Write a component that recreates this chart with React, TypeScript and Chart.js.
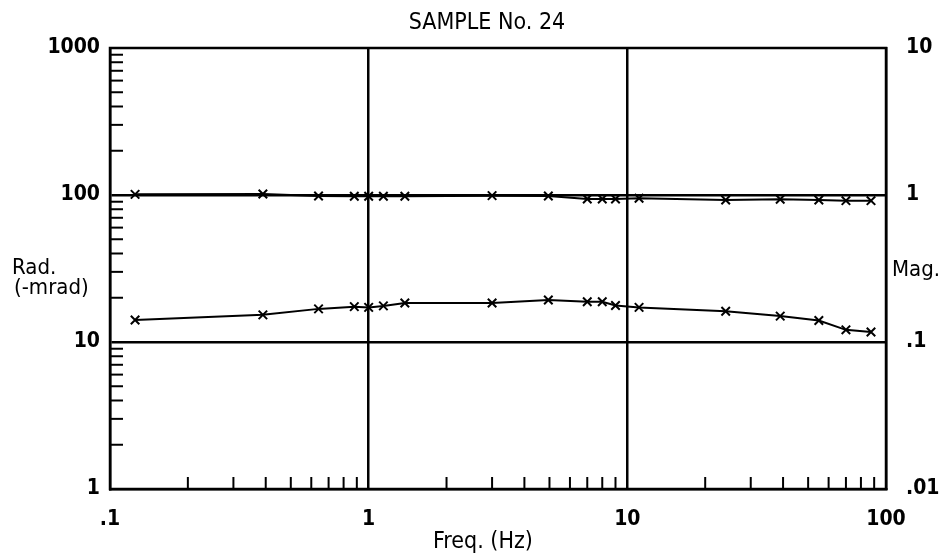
import React, { useEffect, useRef } from "react";
import { Chart, registerables } from "chart.js";
Chart.register(...registerables);

// Frequencies (Hz) of the measured points
const freqs = [0.125, 0.39, 0.64, 0.88, 1.0, 1.14, 1.38, 3.0, 4.95, 7.0, 8.0, 9.0, 11.1, 24, 39, 55, 70, 87.5];
// Magnitude (right axis)
const magValues = [1.01, 1.015, 0.985, 0.98, 0.98, 0.98, 0.98, 0.99, 0.985, 0.94, 0.94, 0.94, 0.95, 0.925, 0.935, 0.925, 0.915, 0.915];
// Phase, -mrad (left axis)
const radValues = [14.1, 15.3, 16.8, 17.4, 17.2, 17.6, 18.4, 18.4, 19.3, 18.8, 18.8, 17.7, 17.2, 16.2, 15.0, 14.0, 12.1, 11.7];

const xMajor = [0.1, 1, 10, 100];
const xLabels = [".1", "1", "10", "100"];
const leftMajor = [1, 10, 100, 1000];
const leftLabels = ["1", "10", "100", "1000"];
const rightMajor = [0.01, 0.1, 1, 10];
const rightLabels = [".01", ".1", "1", "10"];
const minorMults = [2, 3, 4, 5, 6, 7, 8, 9];

const titleText = "SAMPLE No. 24";
const xTitle = "Freq. (Hz)";
const leftTitle = ["Rad.", "(-mrad)"];
const rightTitle = "Mag.";

const FONT = "'DejaVu Sans Condensed', 'DejaVu Sans', sans-serif";

function allTicks(majors: number[]) {
  const out: number[] = [];
  for (let i = 0; i < majors.length; i++) {
    out.push(majors[i]);
    if (i < majors.length - 1) minorMults.forEach((m) => out.push(+(majors[i] * m).toPrecision(6)));
  }
  return out;
}
function minors(majors: number[]) {
  const out: number[] = [];
  for (let i = 0; i < majors.length - 1; i++) minorMults.forEach((m) => out.push(majors[i] * m));
  return out;
}
const isMajor = (v: number, majors: number[]) => majors.some((m) => Math.abs(Math.log10(v) - Math.log10(m)) < 1e-6);

const framePlugin = {
  id: "frame",
  afterDraw(chart: any) {
    const { ctx, chartArea: a, scales } = chart;
    ctx.save();
    ctx.strokeStyle = "#000";
    ctx.lineWidth = 2.5;
    ctx.strokeRect(a.left, a.top, a.right - a.left, a.bottom - a.top);
    ctx.lineWidth = 2;
    minors(xMajor).forEach((v) => {
      const x = scales.x.getPixelForValue(v);
      ctx.beginPath();
      ctx.moveTo(x, a.bottom);
      ctx.lineTo(x, a.bottom - 12);
      ctx.stroke();
    });
    minors(leftMajor).forEach((v) => {
      const y = scales.y.getPixelForValue(v);
      ctx.beginPath();
      ctx.moveTo(a.left, y);
      ctx.lineTo(a.left + 13, y);
      ctx.stroke();
    });
    ctx.fillStyle = "#000";
    ctx.textBaseline = "middle";
    ctx.font = `23px ${FONT}`;
    ctx.textAlign = "center";
    ctx.fillText(titleText, 487, 23);
    ctx.fillText(xTitle, 483, 542);
    ctx.textAlign = "left";
    ctx.font = `22px ${FONT}`;
    ctx.fillText(leftTitle[0], 12, 268);
    ctx.fillText(leftTitle[1], 14, 288);
    ctx.fillText(rightTitle, 892, 270);
    ctx.restore();
  },
};

export default function App() {
  const ref = useRef<HTMLCanvasElement>(null);
  useEffect(() => {
    document.body.style.margin = "0";
    const tickFont = { family: FONT, size: 21, weight: "bold" as const };
    const common = {
      borderColor: "#000",
      borderWidth: 2,
      pointStyle: "crossRot",
      pointRadius: 6,
      pointBorderWidth: 2,
      pointBorderColor: "#000",
      tension: 0,
    };
    const chart = new Chart(ref.current!, {
      type: "line",
      data: {
        datasets: [
          { label: "Mag.", data: freqs.map((f, i) => ({ x: f, y: magValues[i] })), yAxisID: "y2", ...common },
          { label: "Rad.", data: freqs.map((f, i) => ({ x: f, y: radValues[i] })), yAxisID: "y", ...common },
        ],
      },
      options: {
        animation: false,
        responsive: false,
        layout: { padding: { top: 48, left: 0, right: 0, bottom: 0 } },
        plugins: { legend: { display: false }, tooltip: { enabled: false }, title: { display: false } },
        scales: {
          x: {
            type: "logarithmic",
            min: 0.1,
            max: 100,
            afterBuildTicks: (s: any) => { s.ticks = allTicks(xMajor).map((v) => ({ value: v })); },
            afterFit: (s: any) => { s.height = 68; },
            ticks: {
              autoSkip: false,
              maxRotation: 0,
              padding: 18,
              color: "#000",
              font: tickFont,
              callback: (v: any) => { const i = xMajor.findIndex((m) => isMajor(v, [m])); return i >= 0 ? xLabels[i] : ""; },
            },
            grid: {
              drawTicks: false,
              lineWidth: 2.5,
              color: (c: any) => (c.tick && (isMajor(c.tick.value, [1]) || isMajor(c.tick.value, [10])) ? "#000" : "rgba(0,0,0,0)"),
            },
            border: { display: true, color: "#000", width: 2.5 },
          },
          y: {
            type: "logarithmic",
            position: "left",
            min: 1,
            max: 1000,
            afterBuildTicks: (s: any) => { s.ticks = allTicks(leftMajor).map((v) => ({ value: v })); },
            afterFit: (s: any) => { s.width = 110; },
            ticks: {
              autoSkip: false,
              padding: 10,
              color: "#000",
              font: tickFont,
              callback: (v: any) => { const i = leftMajor.findIndex((m) => isMajor(v, [m])); return i >= 0 ? leftLabels[i] : ""; },
            },
            grid: {
              drawTicks: false,
              lineWidth: 2.5,
              color: (c: any) => (c.tick && (isMajor(c.tick.value, [10]) || isMajor(c.tick.value, [100])) ? "#000" : "rgba(0,0,0,0)"),
            },
            border: { display: true, color: "#000", width: 2.5 },
          },
          y2: {
            type: "logarithmic",
            position: "right",
            min: 0.01,
            max: 10,
            afterBuildTicks: (s: any) => { s.ticks = rightMajor.map((v) => ({ value: v })); },
            afterFit: (s: any) => { s.width = 64; },
            ticks: {
              autoSkip: false,
              padding: 20,
              color: "#000",
              font: tickFont,
              callback: (v: any) => { const i = rightMajor.findIndex((m) => isMajor(v, [m])); return i >= 0 ? rightLabels[i] : ""; },
            },
            grid: { display: false, drawTicks: false },
            border: { display: true, color: "#000", width: 2.5 },
          },
        },
      },
      plugins: [framePlugin],
    });
    return () => chart.destroy();
  }, []);
  return (
    <div style={{ width: 950, height: 557, background: "#fff" }}>
      <canvas ref={ref} width={950} height={557} />
    </div>
  );
}
